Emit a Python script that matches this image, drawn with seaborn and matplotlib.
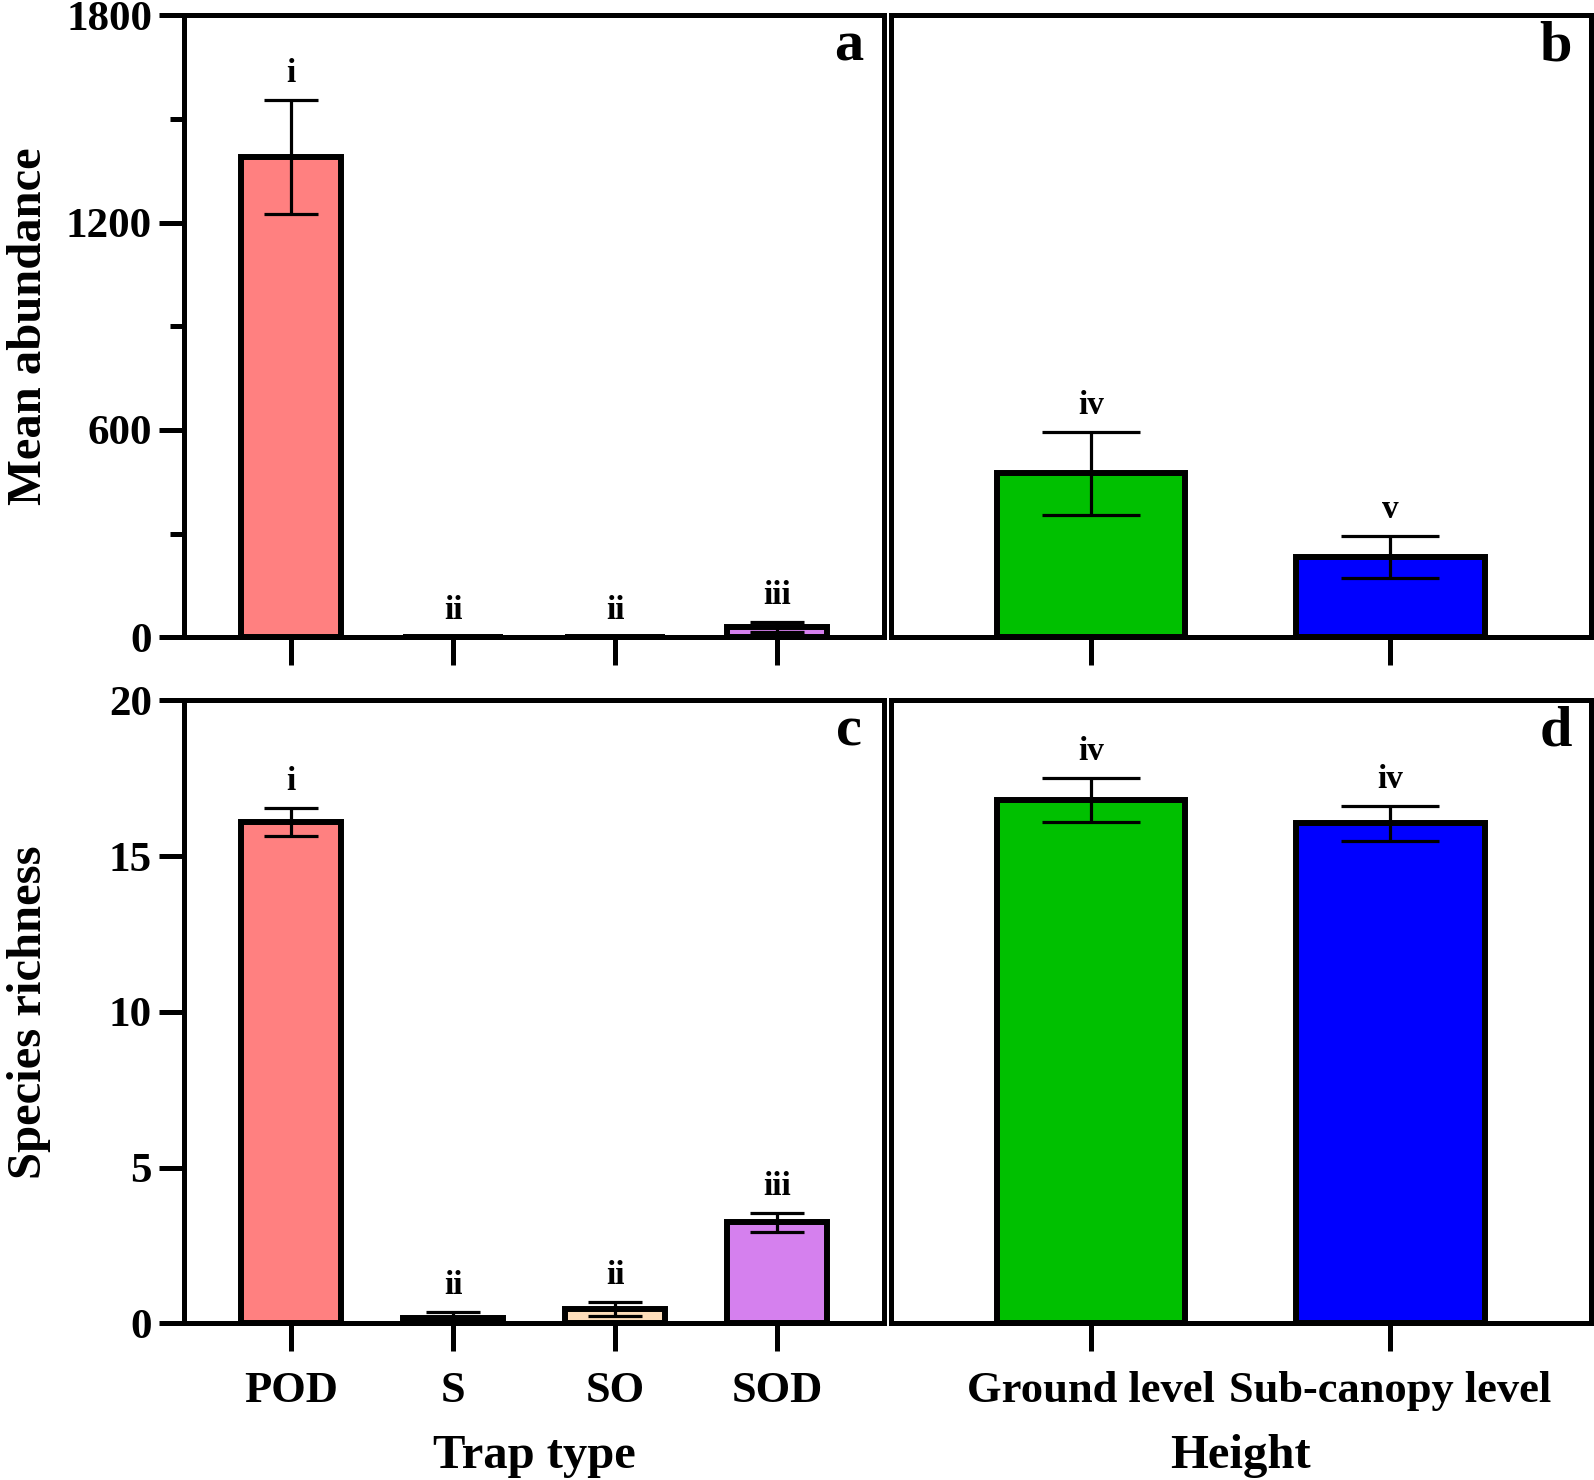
import numpy as np
import pandas as pd
import matplotlib
matplotlib.use("Agg")
import matplotlib.pyplot as plt
import seaborn as sns
from matplotlib.ticker import MultipleLocator

# -------------------------------------------------------------
# data
# -------------------------------------------------------------
trap_types   = ["POD", "S", "SO", "SOD"]
trap_colors  = ["#FF8080", "#A0A0A0", "#FDDDBA", "#D580EE"]
trap_abund   = [1390, 0, 0, 30]
trap_abund_e = [165, 0, 0, 14]
trap_rich    = [16.1, 0.17, 0.47, 3.25]
trap_rich_e  = [0.45, 0.2, 0.22, 0.3]
trap_letters_abund = ["i", "ii", "ii", "iii"]
trap_letters_rich  = ["i", "ii", "ii", "iii"]

heights       = ["Ground level", "Sub-canopy level"]
height_colors = ["#00C000", "#0000FF"]
height_abund   = [475, 232]
height_abund_e = [120, 60]
height_rich    = [16.8, 16.05]
height_rich_e  = [0.7, 0.55]
height_letters_abund = ["iv", "v"]
height_letters_rich  = ["iv", "iv"]

# -------------------------------------------------------------
# style
# -------------------------------------------------------------
sns.set_theme(style="ticks")
plt.rcParams["font.family"] = ["Liberation Serif", "DejaVu Serif"]
plt.rcParams["font.weight"] = "bold"
for k in ["text.color", "axes.labelcolor", "xtick.color", "ytick.color", "axes.edgecolor"]:
    plt.rcParams[k] = "black"
LW = 3.6

fig = plt.figure(figsize=(15.94, 14.8), dpi=100)
ax_a = fig.add_axes([0.1154, 0.5694, 0.4393, 0.4203])
ax_b = fig.add_axes([0.5587, 0.5694, 0.4393, 0.4203], sharey=ax_a)
ax_c = fig.add_axes([0.1154, 0.1058, 0.4393, 0.4210])
ax_d = fig.add_axes([0.5587, 0.1058, 0.4393, 0.4210], sharey=ax_c)


def panel(ax, cats, cols, vals, errs, letters, width, cap, xlim, tag, off):
    df = pd.DataFrame({"cat": cats, "val": vals})
    sns.barplot(data=df, x="cat", y="val", hue="cat", order=cats, hue_order=cats,
                palette=cols, width=width, edgecolor="black", linewidth=4.3,
                errorbar=None, legend=False, saturation=1, ax=ax)
    x = np.arange(len(cats))
    v = np.array(vals); e = np.array(errs)
    m = e > 0
    ax.errorbar(x[m], v[m], yerr=e[m], fmt="none", ecolor="black",
                elinewidth=2.3, capsize=cap, capthick=2.3, zorder=5)
    for xi, vi, ei, lab in zip(x, v, e, letters):
        ax.annotate(lab, (xi, vi + ei), xytext=(0, off), textcoords="offset points",
                    ha="center", va="bottom", fontsize=24, fontweight="bold")
    ax.text(0.95, 0.95, tag, transform=ax.transAxes, ha="center", va="center",
            fontsize=42, fontweight="bold")
    ax.set_xlim(*xlim)
    ax.set_xlabel(""); ax.set_ylabel("")
    for s in ax.spines.values():
        s.set_linewidth(LW); s.set_color("black"); s.set_visible(True)
    ax.tick_params(axis="x", direction="out", length=20, width=LW, pad=14,
                   labelsize=32, color="black")
    ax.tick_params(axis="y", which="major", direction="out", length=18, width=LW,
                   pad=5, labelsize=31, color="black")
    ax.tick_params(axis="y", which="minor", direction="out", length=10, width=LW,
                   color="black")
    for t in ax.get_xticklabels() + ax.get_yticklabels():
        t.set_fontweight("bold")


panel(ax_a, trap_types, trap_colors, trap_abund, trap_abund_e, trap_letters_abund,
      0.62, 19.5, (-0.66, 3.66), "a", 8)
panel(ax_b, heights, height_colors, height_abund, height_abund_e, height_letters_abund,
      0.63, 35, (-0.67, 1.67), "b", 8)
panel(ax_c, trap_types, trap_colors, trap_rich, trap_rich_e, trap_letters_rich,
      0.62, 19.5, (-0.66, 3.66), "c", 8)
panel(ax_d, heights, height_colors, height_rich, height_rich_e, height_letters_rich,
      0.63, 35, (-0.67, 1.67), "d", 8)

ax_a.set_ylim(0, 1800)
ax_a.yaxis.set_major_locator(MultipleLocator(600))
ax_a.yaxis.set_minor_locator(MultipleLocator(300))
ax_c.set_ylim(0, 20)
ax_c.yaxis.set_major_locator(MultipleLocator(5))

for ax in (ax_b, ax_d):
    ax.tick_params(axis="y", which="both", left=False, labelleft=False)
for ax in (ax_a, ax_b):
    ax.tick_params(axis="x", labelbottom=False)
for t in ax_a.get_yticklabels() + ax_c.get_yticklabels():
    t.set_fontweight("bold")

ax_a.set_ylabel("Mean abundance", fontsize=35, fontweight="bold")
ax_c.set_ylabel("Species richness", fontsize=35, fontweight="bold")
ax_a.yaxis.set_label_coords(-0.19, 0.5)
ax_c.yaxis.set_label_coords(-0.19, 0.5)
ax_c.set_xlabel("Trap type", fontsize=35, fontweight="bold", labelpad=17)
ax_d.set_xlabel("Height", fontsize=35, fontweight="bold", labelpad=17)

fig.savefig("out.png", dpi=100)
